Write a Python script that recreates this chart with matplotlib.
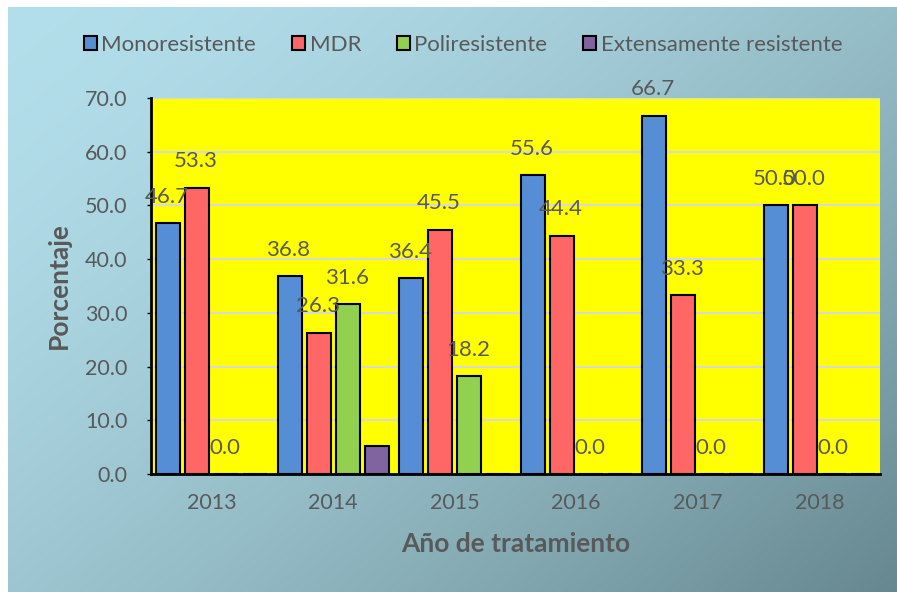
import matplotlib as mpl
mpl.use("Agg")
import matplotlib.pyplot as plt
import numpy as np
from matplotlib.patches import Patch

mpl.rcParams.update({
    "font.family": ["Lato", "DejaVu Sans"],
    "font.size": 12,
})

# ── Data ──────────────────────────────────────────────────────────────────────
YEARS = ["2013", "2014", "2015", "2016", "2017", "2018"]
SERIES = ["Monoresistente", "MDR", "Poliresistente", "Extensamente resistente"]
MONO = [46.7, 36.8, 36.4, 55.6, 66.7, 50.0]
MDR = [53.3, 26.3, 45.5, 44.4, 33.3, 50.0]
POLI = [0.0, 31.6, 18.2, 0.0, 0.0, 0.0]
XDR = [0.0, 5.3, 0.0, 0.0, 0.0, 0.0]

COLORS = ["#558ED5", "#FF6666", "#92D050", "#8064A2"]
TXT = "#595959"

fig = plt.figure(figsize=(8.97, 5.92), dpi=100, facecolor="white")

# gradient background (light blue top-left -> slate bottom-right)
bg = fig.add_axes([8 / 897, 0, 1 - 8 / 897, 1 - 7 / 592], zorder=0)
bg.axis("off")
gx, gy = np.meshgrid(np.linspace(0, 1, 200), np.linspace(0, 1, 200))
t = np.clip(0.55 * gx + 0.45 * gy, 0, 1) ** 1.6
c0 = np.array([0.70, 0.87, 0.92])
c1 = np.array([0.40, 0.53, 0.56])
img = c0[None, None, :] * (1 - t[..., None]) + c1[None, None, :] * t[..., None]
bg.imshow(img, aspect="auto", extent=[0, 1, 0, 1], origin="upper")
bg.set_xlim(0, 1)
bg.set_ylim(0, 1)

ax = fig.add_axes([151 / 897, 118 / 592, 729 / 897, 376 / 592], zorder=1)
ax.set_facecolor("#FFFF00")

x = np.arange(len(YEARS))
step = 0.239
width = 0.198
data = [MONO, MDR, POLI, XDR]
for i, (vals, col) in enumerate(zip(data, COLORS)):
    pos = x + (i - 1.5) * step
    bars = ax.bar(pos, vals, width=width, color=col, edgecolor="black",
                  linewidth=1.5, zorder=3)
    if i < 3:
        for b, v in zip(bars, vals):
            ax.annotate(f"{v:.1f}", (b.get_x() + b.get_width() / 2 - 0.01, v),
                        xytext=(0, 19), textcoords="offset points",
                        ha="center", va="center", fontsize=16, color=TXT,
                        zorder=4, annotation_clip=False)

ax.set_xlim(-0.5, 5.5)
ax.set_ylim(0, 70)
ax.set_yticks(np.arange(0, 71, 10))
ax.set_yticklabels([f"{v:.1f}" for v in np.arange(0, 71, 10)])
ax.set_xticks(x)
ax.set_xticklabels(YEARS)
ax.yaxis.grid(True, color="#D9D9D9", lw=1.5, zorder=0)
ax.set_axisbelow(True)
for s in ["top", "right"]:
    ax.spines[s].set_visible(False)
ax.spines["left"].set_linewidth(2)
ax.spines["bottom"].set_linewidth(2)
ax.tick_params(axis="y", length=3, width=1, color="black", labelcolor=TXT,
               labelsize=15.5, pad=14)
ax.tick_params(axis="x", length=0, labelcolor=TXT, labelsize=15.5, pad=14)

ax.set_ylabel("Porcentaje", fontsize=19, fontweight="bold", color=TXT, labelpad=10)
ax.set_xlabel("Año de tratamiento", fontsize=19, fontweight="bold", color=TXT, labelpad=13)

handles = [Patch(facecolor=c, edgecolor="black", linewidth=1.5) for c in COLORS]
fig.legend(handles, SERIES, loc="center", bbox_to_anchor=(463 / 897, 1 - 45 / 592),
           ncol=4, frameon=False, fontsize=16, labelcolor=TXT,
           handlelength=0.6, handleheight=0.6, handletextpad=0.2, columnspacing=1.6)

fig.savefig("out.png", dpi=100)
